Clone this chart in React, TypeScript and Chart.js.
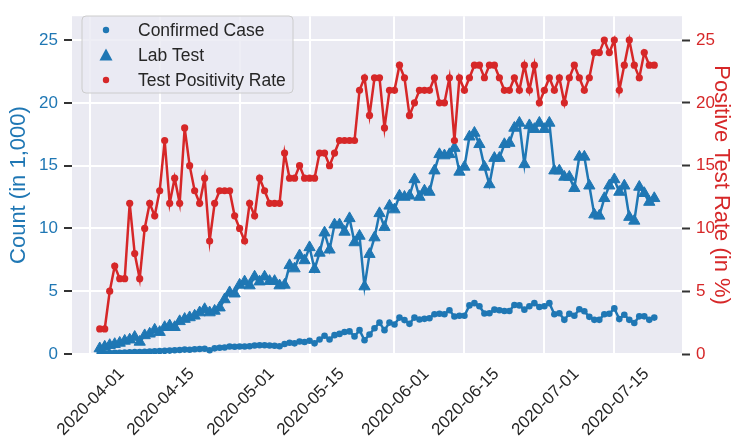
import React, { useEffect, useRef } from 'react';
import { Chart, registerables } from 'chart.js';

Chart.register(...registerables);

const FONT = "'Liberation Sans', Arial, Helvetica, sans-serif";
const BLUE = '#1f77b4';
const RED = '#d62728';
const TEXT = '#262626';

// first and last reporting day (one point per day)
const firstDate = '2020-04-03';
const lastDate = '2020-07-23';

const xTickDates = [
  '2020-04-01', '2020-04-15', '2020-05-01', '2020-05-15',
  '2020-06-01', '2020-06-15', '2020-07-01', '2020-07-15',
];

const yTicks = [0, 5, 10, 15, 20, 25];

// Confirmed cases (in 1,000)
const confirmedCase = [
  0.05, 0.06, 0.08, 0.10, 0.10, 0.12, 0.13, 0.15, 0.16, 0.18,
  0.20, 0.22, 0.23, 0.25, 0.27, 0.30, 0.32, 0.35, 0.34, 0.38,
  0.40, 0.42, 0.30, 0.45, 0.50, 0.52, 0.60, 0.58, 0.60, 0.60,
  0.62, 0.68, 0.70, 0.70, 0.68, 0.66, 0.62, 0.80, 0.90, 0.85,
  1.00, 0.95, 1.05, 0.85, 1.15, 1.45, 1.15, 1.50, 1.60, 1.75,
  1.80, 1.40, 1.90, 1.10, 1.55, 2.05, 2.50, 1.90, 2.50, 2.35,
  2.90, 2.70, 2.40, 2.90, 2.75, 2.80, 2.85, 3.17, 3.20, 3.17,
  3.48, 2.99, 3.05, 3.04, 3.87, 4.05, 3.80, 3.22, 3.25, 3.53,
  3.48, 3.43, 3.43, 3.90, 3.87, 3.53, 3.80, 4.05, 3.74, 3.80,
  4.05, 3.17, 3.25, 2.72, 3.20, 3.05, 3.56, 3.40, 2.96, 2.72,
  2.72, 3.17, 3.20, 3.63, 2.78, 3.12, 2.72, 2.47, 3.00, 3.00,
  2.72, 2.90,
];

// Lab tests (in 1,000)
const labTest = [
  0.44, 0.57, 0.70, 0.78, 0.88, 1.04, 1.14, 1.35, 0.96, 1.48,
  1.61, 1.92, 1.74, 2.13, 2.26, 2.13, 2.60, 2.78, 2.91, 3.04,
  3.30, 3.56, 3.30, 3.43, 3.69, 4.34, 4.90, 4.80, 5.50, 5.76,
  5.45, 6.15, 5.76, 6.15, 5.80, 5.80, 5.45, 5.50, 7.06, 6.80,
  7.84, 7.45, 8.49, 6.75, 8.05, 9.66, 8.30, 10.3, 10.3, 9.72,
  10.8, 8.88, 9.40, 5.37, 7.95, 9.27, 11.2, 10.1, 11.8, 11.5,
  12.6, 12.5, 12.6, 13.9, 12.5, 13.0, 12.9, 14.6, 15.9, 15.8,
  15.9, 16.4, 14.5, 14.9, 17.3, 17.6, 16.7, 14.9, 13.5, 15.6,
  15.6, 16.7, 16.8, 18.0, 18.4, 15.1, 18.2, 17.9, 18.4, 17.9,
  18.4, 14.6, 14.6, 14.1, 14.1, 13.2, 15.7, 15.7, 13.4, 11.1,
  11.0, 12.4, 13.4, 13.9, 12.9, 13.4, 10.9, 10.6, 13.3, 12.8,
  12.1, 12.4,
];

// Test positivity rate (%)
const positivityRate = [
  2, 2, 5, 7, 6, 6, 12, 8, 6, 10,
  12, 11, 13, 17, 12, 14, 12, 18, 15, 13,
  12, 14, 9, 12, 13, 13, 13, 11, 10, 9,
  12, 11, 14, 13, 12, 12, 12, 16, 14, 14,
  15, 14, 14, 14, 16, 16, 15, 16, 17, 17,
  17, 17, 21, 22, 19, 22, 22, 18, 21, 21,
  23, 22, 19, 20, 21, 21, 21, 22, 20, 20,
  22, 17, 22, 21, 22, 23, 23, 22, 23, 23,
  22, 21, 21, 22, 21, 23, 21, 23, 20, 21,
  22, 21, 22, 20, 22, 23, 22, 21, 22, 24,
  24, 25, 24, 25, 21, 23, 25, 23, 22, 24,
  23, 23,
];

const DAY = 86400000;
const origin = Date.UTC(2020, 3, 1);
const toDay = (s: string) => {
  const [y, m, d] = s.split('-').map(Number);
  return (Date.UTC(y, m - 1, d) - origin) / DAY;
};
const fromDay = (n: number) => new Date(origin + Math.round(n) * DAY).toISOString().slice(0, 10);

const dates: string[] = [];
for (let t = toDay(firstDate); t <= toDay(lastDate); t++) dates.push(fromDay(t));

const xs = dates.map(toDay);
const span = xs[xs.length - 1] - xs[0];
const xMin = xs[0] - span * 0.05;
const xMax = xs[xs.length - 1] + span * 0.05;
const yMax = 26.9;

const pts = (vals: number[]) => vals.map((v, i) => ({ x: xs[i], y: v }));

const bgPlugin = {
  id: 'bgPlugin',
  beforeDraw(chart: any) {
    const { ctx, chartArea: a } = chart;
    ctx.save();
    ctx.fillStyle = '#EAEAF2';
    ctx.fillRect(a.left, a.top, a.right - a.left, a.bottom - a.top);
    ctx.restore();
  },
};

const legendPlugin = {
  id: 'boxLegend',
  afterDraw(chart: any) {
    const { ctx } = chart;
    const x0 = 82, y0 = 16, w = 211, h = 77;
    ctx.save();
    ctx.beginPath();
    const r = 4;
    ctx.moveTo(x0 + r, y0);
    ctx.arcTo(x0 + w, y0, x0 + w, y0 + h, r);
    ctx.arcTo(x0 + w, y0 + h, x0, y0 + h, r);
    ctx.arcTo(x0, y0 + h, x0, y0, r);
    ctx.arcTo(x0, y0, x0 + w, y0, r);
    ctx.closePath();
    ctx.fillStyle = 'rgba(234,234,242,0.8)';
    ctx.fill();
    ctx.strokeStyle = '#cccccc';
    ctx.lineWidth = 1;
    ctx.stroke();
    const rows = [30, 55, 80];
    ctx.font = `17.5px ${FONT}`;
    ctx.textBaseline = 'middle';
    ctx.textAlign = 'left';
    chart.data.datasets.forEach((ds: any, k: number) => {
      const cy = rows[k];
      const cx = 106;
      ctx.fillStyle = ds.pointBackgroundColor;
      ctx.beginPath();
      if (ds.pointStyle === 'triangle') {
        ctx.moveTo(cx, cy - 6.5);
        ctx.lineTo(cx + 6.5, cy + 5.5);
        ctx.lineTo(cx - 6.5, cy + 5.5);
        ctx.closePath();
      } else {
        ctx.arc(cx, cy, 3.2, 0, Math.PI * 2);
      }
      ctx.fill();
      ctx.fillStyle = TEXT;
      ctx.fillText(ds.label, 138, cy + 1);
    });
    ctx.restore();
  },
};

export default function App() {
  const ref = useRef<HTMLCanvasElement | null>(null);
  useEffect(() => {
    if (!ref.current) return;
    const chart = new Chart(ref.current, {
      type: 'line',
      data: {
        datasets: [
          {
            label: 'Confirmed Case',
            data: pts(confirmedCase),
            yAxisID: 'y',
            borderColor: BLUE,
            backgroundColor: BLUE,
            pointBackgroundColor: BLUE,
            pointBorderColor: BLUE,
            pointStyle: 'circle',
            pointRadius: 3.3,
            pointBorderWidth: 0,
            borderWidth: 2.5,
            order: 2,
          },
          {
            label: 'Lab Test',
            data: pts(labTest),
            yAxisID: 'y',
            borderColor: BLUE,
            backgroundColor: BLUE,
            pointBackgroundColor: BLUE,
            pointBorderColor: BLUE,
            pointStyle: 'triangle',
            pointRadius: 6.5,
            pointBorderWidth: 1,
            borderWidth: 2.5,
            order: 1,
          },
          {
            label: 'Test Positivity Rate',
            data: pts(positivityRate),
            yAxisID: 'y1',
            borderColor: RED,
            backgroundColor: RED,
            pointBackgroundColor: RED,
            pointBorderColor: RED,
            pointStyle: 'circle',
            pointRadius: 3.6,
            pointBorderWidth: 0,
            borderWidth: 2.5,
            order: 0,
          },
        ],
      },
      options: {
        animation: false,
        responsive: false,
        maintainAspectRatio: false,
        layout: { padding: { top: 9, left: 0, right: 0, bottom: 0 } },
        plugins: { legend: { display: false }, tooltip: { enabled: false } },
        scales: {
          x: {
            type: 'linear',
            min: xMin,
            max: xMax,
            border: { display: false },
            grid: { color: '#ffffff', lineWidth: 2, drawTicks: false },
            afterBuildTicks: (scale: any) => {
              scale.ticks = xTickDates.map((d) => ({ value: toDay(d) }));
            },
            afterFit: (scale: any) => { scale.height = 90; },
            ticks: {
              autoSkip: false,
              maxRotation: 45,
              minRotation: 45,
              labelOffset: 32,
              padding: 10,
              color: TEXT,
              font: { family: FONT, size: 17 },
              callback: (v: any) => fromDay(Number(v)),
            },
          },
          y: {
            position: 'left',
            min: 0,
            max: yMax,
            border: { display: false },
            grid: { color: '#ffffff', lineWidth: 2, tickColor: '#333333', tickLength: 8, tickWidth: 2 },
            afterBuildTicks: (scale: any) => { scale.ticks = yTicks.map((v) => ({ value: v })); },
            afterFit: (scale: any) => { scale.width = 72; },
            ticks: { color: BLUE, padding: 6, font: { family: FONT, size: 17 } },
            title: {
              display: true,
              text: 'Count (in 1,000)',
              color: BLUE,
              font: { family: FONT, size: 22 },
              padding: { top: 6, bottom: 0 },
            },
          },
          y1: {
            position: 'right',
            min: 0,
            max: yMax,
            border: { display: false },
            grid: { drawOnChartArea: false, color: '#ffffff', tickColor: '#333333', tickLength: 8, tickWidth: 2 },
            afterBuildTicks: (scale: any) => { scale.ticks = yTicks.map((v) => ({ value: v })); },
            afterFit: (scale: any) => { scale.width = 57; },
            ticks: { color: RED, padding: 6, font: { family: FONT, size: 17 } },
            title: {
              display: true,
              text: 'Positive Test Rate (in %)',
              color: RED,
              font: { family: FONT, size: 22 },
              padding: { top: 5, bottom: 0 },
            },
          },
        },
      },
      plugins: [bgPlugin, legendPlugin],
    } as any);
    return () => chart.destroy();
  }, []);
  return (
    <div style={{ position: 'absolute', left: 0, top: 0, width: 739, height: 444, background: '#ffffff' }}>
      <canvas ref={ref} width={739} height={444} style={{ display: 'block', width: 739, height: 444 }} />
    </div>
  );
}
